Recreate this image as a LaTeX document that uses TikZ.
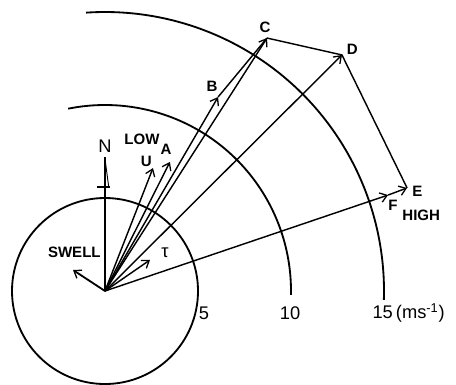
\documentclass[tikz,border=0pt]{standalone}
\usepackage{fontspec}
\setmainfont{Liberation Sans}
\usetikzlibrary{arrows.meta}

\begin{document}
\begin{tikzpicture}[scale=0.5,
  vec/.style={-{Straight Barb[length=1.8mm,width=2.6mm,line width=1pt]},line width=1.1pt},
  ring/.style={line width=1.4pt},
  lbl/.style={font=\fontsize{11.5}{13}\selectfont\bfseries,inner sep=1pt},
  num/.style={font=\fontsize{14}{16}\selectfont,inner sep=1pt}
]
\useasboundingbox (-5.645,-5.0) rectangle (18.87,15.645);

% origin and vector tips (speed in m/s)
\coordinate (O) at (0,0);
\coordinate (U) at (2.58,6.61);
\coordinate (A) at (3.49,6.94);
\coordinate (B) at (6.08,10.43);
\coordinate (C) at (8.71,13.60);
\coordinate (D) at (12.74,12.69);
\coordinate (F) at (15.22,5.16);
\coordinate (E) at (16.24,5.54);
\coordinate (tau) at (2.42,1.67);
\coordinate (sw) at (-1.72,1.13);
\coordinate (Ntop) at (0,7.2);
\coordinate (Ntick) at (0,5.6);

% speed circles
\draw[ring] (O) circle (5);
\draw[ring] (101.4:10) arc (101.4:-1.2:10);
\draw[ring] (93.9:15) arc (93.9:-1.8:15);

% north axis
\draw[line width=1.1pt] (O) -- (Ntop);
\draw[line width=1.1pt] (-0.43,5.6) -- (0.27,5.6);
\draw[line width=0.7pt] (0,7.1) -- (0.2,5.6) -- (Ntick);

% wind vectors
\draw[vec] (O) -- (U);
\draw[vec] (O) -- (A);
\draw[vec] (O) -- (B);
\draw[line width=1.1pt] (B) -- (C);
\draw[vec] (O) -- (C);
\draw[vec] (O) -- (D);
\draw[vec] (O) -- (F);
\draw[vec] (F) -- (E);
\draw[line width=1.1pt] (C) -- (D) -- (E);
\draw[vec] (O) -- (tau);
\draw[vec,line width=1.4pt] (O) -- (sw);

% labels
\node[lbl] (lC) at (8.6,14.15) {C};
\node[lbl] (lD) at (13.3,13.0) {D};
\node[lbl] (lE) at (16.8,5.38) {E};
\node[lbl] (lF) at (15.48,4.62) {F};
\node[lbl] (lhigh) at (17.0,4.05) {HIGH};
\node[lbl] (lB) at (5.75,11.0) {B};
\node[lbl] (lA) at (3.28,7.62) {A};
\node[lbl] (lU) at (2.22,6.99) {U};
\node[lbl] (llow) at (1.99,8.15) {LOW};
\node[lbl,anchor=east] (lswell) at (-0.15,2.1) {SWELL};
\node[num] (ltau) at (3.23,2.04) {τ};
\node[num] (lN) at (0,7.8) {N};
\node[num] (l5) at (5.32,-1.18) {5};
\node[num] (l10) at (9.95,-1.18) {10};
\node[num,anchor=west] (l15) at (14.3,-1.18) {15\,(ms\textsuperscript{-1})};
\end{tikzpicture}
\end{document}
